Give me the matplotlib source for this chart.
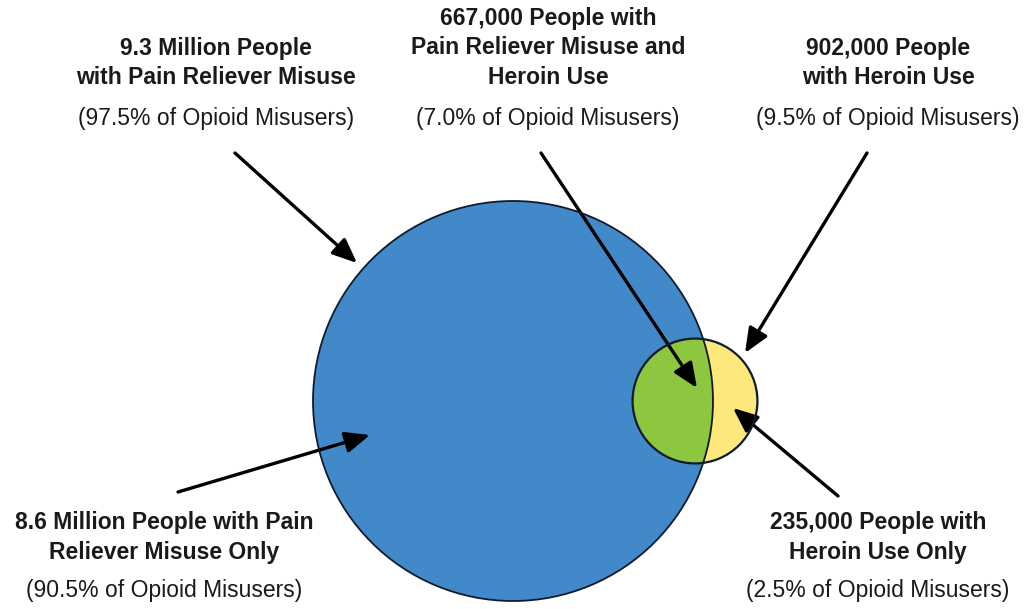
import numpy as np
import matplotlib
matplotlib.use("Agg")
import matplotlib.pyplot as plt
from matplotlib.patches import Circle

plt.rcParams['font.family'] = ['Liberation Sans Narrow', 'Liberation Sans', 'DejaVu Sans']

# share of opioid misusers (percent)
pct_pain = 97.5
pct_heroin = 9.5

group_titles = [
    ["9.3 Million People", "with Pain Reliever Misuse"],
    ["667,000 People with", "Pain Reliever Misuse and", "Heroin Use"],
    ["902,000 People", "with Heroin Use"],
    ["8.6 Million People with Pain", "Reliever Misuse Only"],
    ["235,000 People with", "Heroin Use Only"],
]
group_pcts = ["97.5%", "7.0%", "9.5%", "90.5%", "2.5%"]

BLUE = "#4189c9"
GREEN = "#8dc63f"
YELLOW = "#fde97b"
EDGE = "#0e1b2c"


def draw_label(ax, x, y_first, lines, pct, last_y):
    for i, line in enumerate(lines):
        ax.text(x, y_first + 30 * i, line, ha="center", va="center",
                fontsize=16.5, fontweight="bold", color="#1a1a1a")
    ax.text(x, last_y, "(" + pct + " of Opioid Misusers)", ha="center", va="center",
            fontsize=16.5, color="#1a1a1a")


def arrow(ax, start, end):
    ax.annotate("", xy=end, xytext=start,
                arrowprops=dict(arrowstyle="-|>,head_length=0.75,head_width=0.32",
                                mutation_scale=20, lw=2.4, color="black",
                                shrinkA=0, shrinkB=0))


def main():
    fig = plt.figure(figsize=(10.25, 6.09), dpi=100)
    ax = fig.add_axes([0, 0, 1, 1])
    ax.set_xlim(0, 1025)
    ax.set_ylim(609, 0)
    ax.set_aspect("equal")
    ax.axis("off")

    r_big = 200
    r_small = r_big * np.sqrt(pct_heroin / pct_pain)
    big_c = (513, 401)
    small_c = (695, 401)

    big = Circle(big_c, r_big, facecolor=BLUE, edgecolor="none", zorder=1)
    ax.add_patch(big)
    ax.add_patch(Circle(small_c, r_small, facecolor=YELLOW, edgecolor="none", zorder=2))
    both = Circle(small_c, r_small, facecolor=GREEN, edgecolor="none", zorder=3)
    ax.add_patch(both)
    clip = Circle(big_c, r_big, transform=ax.transData)
    both.set_clip_path(clip)

    # outlines
    ax.add_patch(Circle(big_c, r_big, facecolor="none", edgecolor=EDGE, lw=1.3, zorder=4))
    ax.add_patch(Circle(small_c, r_small, facecolor="none", edgecolor=EDGE, lw=1.6, zorder=4))

    draw_label(ax, 216, 48, group_titles[0], group_pcts[0], 118)
    draw_label(ax, 548, 18, group_titles[1], group_pcts[1], 118)
    draw_label(ax, 888, 48, group_titles[2], group_pcts[2], 118)
    draw_label(ax, 164, 522, group_titles[3], group_pcts[3], 590)
    draw_label(ax, 878, 522, group_titles[4], group_pcts[4], 590)

    arrow(ax, (235, 153), (357, 263))
    arrow(ax, (541, 153), (697, 388))
    arrow(ax, (867, 153), (745, 353))
    arrow(ax, (178, 492), (370, 435))
    arrow(ax, (838, 496), (733, 408))

    fig.savefig("out.png", dpi=100, facecolor="white")


if __name__ == "__main__":
    main()
